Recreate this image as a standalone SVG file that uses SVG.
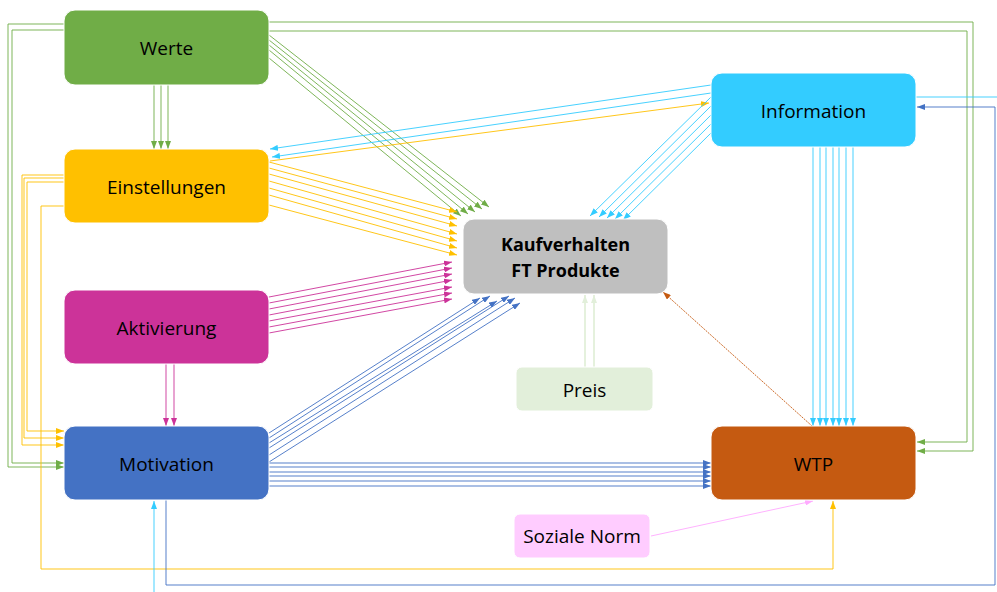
<svg xmlns="http://www.w3.org/2000/svg" width="997" height="592" viewBox="0 0 997 592">
<style>
.node{stroke:#fff;stroke-width:1}
.lbl{font-family:"Open Sans","Noto Sans",sans-serif;font-size:19px;fill:#000;text-anchor:middle;dominant-baseline:central}
.b{font-weight:bold;font-size:18px}
.c{fill:none;stroke-width:1;stroke-opacity:0.9}
.g{stroke:#70AD47}.y{stroke:#FFC000}.m{stroke:#CC3399}.bl{stroke:#4472C4}.cy{stroke:#33CCFF}
.br{stroke:#C55A11;stroke-dasharray:2 1}.pg{stroke:#C5E0B4}.pk{stroke:#FFAAFF}
</style>
<defs>
<marker id="ag" markerWidth="8" markerHeight="6" refX="8" refY="3" orient="auto" markerUnits="userSpaceOnUse"><path d="M0,0L8,3L0,6z" fill="#70AD47"/></marker>
<marker id="ay" markerWidth="8" markerHeight="6" refX="8" refY="3" orient="auto" markerUnits="userSpaceOnUse"><path d="M0,0L8,3L0,6z" fill="#FFC000"/></marker>
<marker id="am" markerWidth="8" markerHeight="6" refX="8" refY="3" orient="auto" markerUnits="userSpaceOnUse"><path d="M0,0L8,3L0,6z" fill="#CC3399"/></marker>
<marker id="ab" markerWidth="8" markerHeight="6" refX="8" refY="3" orient="auto" markerUnits="userSpaceOnUse"><path d="M0,0L8,3L0,6z" fill="#4472C4"/></marker>
<marker id="ac" markerWidth="8" markerHeight="6" refX="8" refY="3" orient="auto" markerUnits="userSpaceOnUse"><path d="M0,0L8,3L0,6z" fill="#33CCFF"/></marker>
<marker id="ar" markerWidth="8" markerHeight="6" refX="8" refY="3" orient="auto" markerUnits="userSpaceOnUse"><path d="M0,0L8,3L0,6z" fill="#C55A11"/></marker>
<marker id="ap" markerWidth="8" markerHeight="6" refX="8" refY="3" orient="auto" markerUnits="userSpaceOnUse"><path d="M0,0L8,3L0,6z" fill="#E2EFDA"/></marker>
<marker id="ak" markerWidth="8" markerHeight="6" refX="8" refY="3" orient="auto" markerUnits="userSpaceOnUse"><path d="M0,0L8,3L0,6z" fill="#FFAAFF"/></marker>
</defs>
<g id="connectors">
<path class="c g" marker-end="url(#ag)" d="M154,85V149"/>
<path class="c g" marker-end="url(#ag)" d="M161,85V149"/>
<path class="c g" marker-end="url(#ag)" d="M168,85V149"/>
<path class="c g" marker-end="url(#ag)" d="M269,35L489,207"/>
<path class="c g" marker-end="url(#ag)" d="M269,40L482,209"/>
<path class="c g" marker-end="url(#ag)" d="M269,45L475,212"/>
<path class="c g" marker-end="url(#ag)" d="M269,50L468,214"/>
<path class="c g" marker-end="url(#ag)" d="M269,58L461,216"/>
<path class="c g" marker-end="url(#ag)" d="M64,24H8V467H64"/>
<path class="c g" marker-end="url(#ag)" d="M64,30H12V463H64"/>
<path class="c g" marker-end="url(#ag)" d="M269,22H973V451H917"/>
<path class="c g" marker-end="url(#ag)" d="M269,31H967V442H917"/>
<path class="c y" marker-end="url(#ay)" d="M269,162L457,212"/>
<path class="c y" marker-end="url(#ay)" d="M269,168L457,219"/>
<path class="c y" marker-end="url(#ay)" d="M269,174L457,226"/>
<path class="c y" marker-end="url(#ay)" d="M269,181L457,234"/>
<path class="c y" marker-end="url(#ay)" d="M269,188L457,241"/>
<path class="c y" marker-end="url(#ay)" d="M269,195L457,248"/>
<path class="c y" marker-end="url(#ay)" d="M269,205L457,255"/>
<path class="c y" marker-end="url(#ay)" d="M64,175H22V445H64"/>
<path class="c y" marker-end="url(#ay)" d="M64,178H24V438H64"/>
<path class="c y" marker-end="url(#ay)" d="M64,182H27V431H64"/>
<path class="c y" marker-end="url(#ay)" d="M64,206H41V569H833V501"/>
<path class="c y" marker-end="url(#ay)" d="M270,161L709,103"/>
<path class="c cy" marker-end="url(#ac)" d="M711,85L270,149"/>
<path class="c cy" marker-end="url(#ac)" d="M711,93L272,157"/>
<path class="c m" marker-end="url(#am)" d="M269,297L452,262"/>
<path class="c m" marker-end="url(#am)" d="M269,303L452,268"/>
<path class="c m" marker-end="url(#am)" d="M269,309L452,274"/>
<path class="c m" marker-end="url(#am)" d="M269,315L452,280"/>
<path class="c m" marker-end="url(#am)" d="M269,321L452,287"/>
<path class="c m" marker-end="url(#am)" d="M269,327L452,293"/>
<path class="c m" marker-end="url(#am)" d="M269,333L452,299"/>
<path class="c m" marker-end="url(#am)" d="M166,364V426"/>
<path class="c m" marker-end="url(#am)" d="M174,364V426"/>
<path class="c bl" marker-end="url(#ab)" d="M269,433L480,298"/>
<path class="c bl" marker-end="url(#ab)" d="M269,438L490,296"/>
<path class="c bl" marker-end="url(#ab)" d="M269,443L497,301"/>
<path class="c bl" marker-end="url(#ab)" d="M269,448L509,296"/>
<path class="c bl" marker-end="url(#ab)" d="M269,455L515,298"/>
<path class="c bl" marker-end="url(#ab)" d="M269,462L520,303"/>
<path class="c bl" marker-end="url(#ab)" d="M269,463H711"/>
<path class="c bl" marker-end="url(#ab)" d="M269,467H711"/>
<path class="c bl" marker-end="url(#ab)" d="M269,472H711"/>
<path class="c bl" marker-end="url(#ab)" d="M269,476H711"/>
<path class="c bl" marker-end="url(#ab)" d="M269,481H711"/>
<path class="c bl" marker-end="url(#ab)" d="M269,486H711"/>
<path class="c bl" marker-end="url(#ab)" d="M166,500V585H995V107H917"/>
<path class="c cy" marker-end="url(#ac)" d="M711,97L590,216"/>
<path class="c cy" marker-end="url(#ac)" d="M711,106L599,217"/>
<path class="c cy" marker-end="url(#ac)" d="M711,115L607,218"/>
<path class="c cy" marker-end="url(#ac)" d="M711,124L615,219"/>
<path class="c cy" marker-end="url(#ac)" d="M711,133L623,220"/>
<path class="c cy" marker-end="url(#ac)" d="M813,147V426"/>
<path class="c cy" marker-end="url(#ac)" d="M820,147V426"/>
<path class="c cy" marker-end="url(#ac)" d="M826,147V426"/>
<path class="c cy" marker-end="url(#ac)" d="M833,147V426"/>
<path class="c cy" marker-end="url(#ac)" d="M839,147V426"/>
<path class="c cy" marker-end="url(#ac)" d="M846,147V426"/>
<path class="c cy" marker-end="url(#ac)" d="M853,147V426"/>
<path class="c cy" d="M916,97H997"/>
<path class="c cy" marker-end="url(#ac)" d="M154,592V501"/>
<path class="c br" marker-end="url(#ar)" d="M812,426L663,292"/>
<path class="c pg" marker-end="url(#ap)" d="M585,367V295"/>
<path class="c pg" marker-end="url(#ap)" d="M594,367V295"/>
<path class="c pk" marker-end="url(#ak)" d="M651,536L813,501"/>
</g>
<g id="werte"><rect class="node" x="64" y="10" width="205" height="75" rx="11" fill="#70AD47"/><text class="lbl" x="166.5" y="48">Werte</text></g>
<g id="einstellungen"><rect class="node" x="64" y="149" width="205" height="74" rx="11" fill="#FFC000"/><text class="lbl" x="166.5" y="187">Einstellungen</text></g>
<g id="aktivierung"><rect class="node" x="64" y="290" width="205" height="74" rx="11" fill="#CC3399"/><text class="lbl" x="166.5" y="328">Aktivierung</text></g>
<g id="motivation"><rect class="node" x="64" y="426" width="205" height="74" rx="11" fill="#4472C4"/><text class="lbl" x="166.5" y="464">Motivation</text></g>
<g id="kaufverhalten"><rect class="node" x="463" y="219" width="205" height="75" rx="11" fill="#BFBFBF"/><text class="lbl b" x="565.5" y="244">Kaufverhalten</text><text class="lbl b" x="565.5" y="270">FT Produkte</text></g>
<g id="information"><rect class="node" x="711" y="73" width="205" height="74" rx="11" fill="#33CCFF"/><text class="lbl" x="813.5" y="111">Information</text></g>
<g id="wtp"><rect class="node" x="711" y="426" width="205" height="74" rx="11" fill="#C55A11"/><text class="lbl" x="813.5" y="464">WTP</text></g>
<g id="preis"><rect class="node" x="516" y="367" width="137" height="44" rx="6" fill="#E2EFDA"/><text class="lbl" x="584.5" y="390">Preis</text></g>
<g id="soziale-norm"><rect class="node" x="514" y="514" width="136" height="44" rx="6" fill="#FFCCFF"/><text class="lbl" x="582" y="536">Soziale Norm</text></g>
</svg>
